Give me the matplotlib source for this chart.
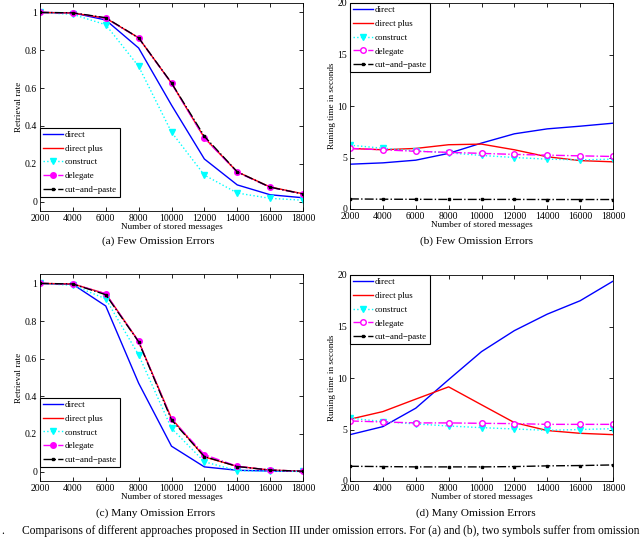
import matplotlib
matplotlib.use("Agg")
import matplotlib.pyplot as plt

plt.rcParams['font.family'] = ['Liberation Serif', 'DejaVu Serif']
plt.rcParams['mathtext.fontset'] = 'stix'

x = [2000, 4000, 6000, 8000, 10000, 12000, 14000, 16000, 18000]
xticks = [2000, 4000, 6000, 8000, 10000, 12000, 14000, 16000, 18000]
labels = ['direct', 'direct plus', 'construct', 'delegate', 'cut\u2212and\u2212paste']

# (a) Few omission errors - retrieval rate
a_direct = [1.0, 0.998, 0.96, 0.812, 0.51, 0.225, 0.088, 0.036, 0.02]
a_plus = [1.0, 0.997, 0.97, 0.866, 0.626, 0.337, 0.157, 0.077, 0.041]
a_construct = [1.0, 0.99, 0.935, 0.715, 0.367, 0.14, 0.045, 0.017, 0.007]
a_delegate = [1.0, 0.997, 0.97, 0.865, 0.625, 0.335, 0.155, 0.075, 0.04]
a_cut = [1.0, 0.998, 0.972, 0.866, 0.627, 0.345, 0.157, 0.076, 0.04]

# (b) Few omission errors - running time
b_direct = [4.35, 4.48, 4.74, 5.4, 6.4, 7.3, 7.78, 8.04, 8.33]
b_plus = [5.88, 5.75, 5.88, 6.24, 6.3, 5.75, 5.07, 4.7, 4.58]
b_construct = [6.2, 5.9, 5.65, 5.45, 5.2, 5.0, 4.84, 4.77, 4.84]
b_delegate = [5.88, 5.75, 5.6, 5.5, 5.4, 5.3, 5.23, 5.16, 5.1]
b_cut = [0.98, 0.95, 0.94, 0.93, 0.93, 0.93, 0.92, 0.92, 0.92]

# (c) Many omission errors - retrieval rate
c_direct = [1.0, 0.995, 0.88, 0.47, 0.135, 0.025, 0.007, 0.003, 0.001]
c_plus = [1.0, 0.997, 0.945, 0.692, 0.283, 0.078, 0.028, 0.008, 0.002]
c_construct = [1.0, 0.99, 0.918, 0.62, 0.23, 0.052, 0.005, 0.002, 0.001]
c_delegate = [1.0, 0.997, 0.945, 0.692, 0.28, 0.09, 0.028, 0.008, 0.002]
c_cut = [1.0, 0.997, 0.94, 0.69, 0.275, 0.08, 0.027, 0.008, 0.002]

# (d) Many omission errors - running time
d_direct = [4.5, 5.28, 7.07, 9.84, 12.56, 14.6, 16.2, 17.5, 19.4]
d_plus = [6.0, 6.74, 7.95, 9.14, 7.4, 5.67, 4.9, 4.63, 4.5]
d_construct = [6.1, 5.77, 5.54, 5.34, 5.18, 5.05, 4.92, 5.0, 5.08]
d_delegate = [5.83, 5.73, 5.64, 5.64, 5.6, 5.57, 5.5, 5.5, 5.5]
d_cut = [1.43, 1.4, 1.37, 1.37, 1.37, 1.4, 1.47, 1.5, 1.56]

captions = ['(a) Few Omission Errors', '(b) Few Omission Errors',
            '(c) Many Omission Errors', '(d) Many Omission Errors']
fig_caption = ('Comparisons of different approaches proposed in Section III under omission errors. '
               'For (a) and (b), two symbols suffer from omission errors')

W, H = 640, 539
fig = plt.figure(figsize=(W / 100, H / 100), dpi=100)


def rect(l, t, r, b):
    return [l / W, 1 - b / H, (r - l) / W, (b - t) / H]


def draw(ax, series, ylim, yticks, yticklabels, ylabel, legend_loc, hollow):
    d, p, c, g, k = series
    ax.plot(x, d, color='#0000ff', lw=1.0, label=labels[0])
    ax.plot(x, p, color='#ff0000', lw=1.0, label=labels[1])
    ax.plot(x, c, color='#00ffff', lw=1.0, ls=':', marker='v', ms=4,
            markerfacecolor='#00ffff', label=labels[2])
    ax.plot(x, g, color='#ff00ff', lw=1.0, ls='-.', marker='o', ms=4,
            markerfacecolor='white' if hollow else '#ff00ff', markeredgewidth=1.0,
            label=labels[3])
    ax.plot(x, k, color='black', lw=1.0, ls='-.', marker='s', ms=2,
            label=labels[4])
    ax.set_xlim(2000, 18000)
    ax.set_ylim(*ylim)
    ax.set_xticks(xticks)
    ax.set_xticklabels([str(v) for v in xticks])
    ax.set_yticks(yticks)
    ax.set_yticklabels(yticklabels)
    ax.tick_params(direction='in', top=True, right=True, length=3, width=0.6,
                   labelsize=7, pad=2)
    for s in ax.spines.values():
        s.set_linewidth(0.6)
    ax.set_xlabel('Number of stored messages', fontsize=6.6, labelpad=0)
    ax.set_ylabel(ylabel, fontsize=6.6, labelpad=1)
    kw = dict(borderaxespad=0, fontsize=6.4, fancybox=False, framealpha=1,
              edgecolor='black', handlelength=2.2, handletextpad=0.25,
              labelspacing=0.62, borderpad=0.35)
    if legend_loc == 'lower':
        leg = ax.legend(loc='lower left', bbox_to_anchor=(0, 0.067), **kw)
    else:
        leg = ax.legend(loc='upper left', bbox_to_anchor=(0, 1), **kw)
    leg.get_frame().set_linewidth(0.8)


rate_ticks = [0, 0.2, 0.4, 0.6, 0.8, 1.0]
rate_labels = ['0', '0.2', '0.4', '0.6', '0.8', '1']
time_ticks = [0, 5, 10, 15, 20]
time_labels = ['0', '5', '10', '15', '20']

axa = fig.add_axes(rect(40, 3, 303, 211))
draw(axa, (a_direct, a_plus, a_construct, a_delegate, a_cut), (-0.05, 1.05),
     rate_ticks, rate_labels, 'Retrieval rate', 'lower', False)
axb = fig.add_axes(rect(350, 3, 613, 209))
draw(axb, (b_direct, b_plus, b_construct, b_delegate, b_cut), (0, 20),
     time_ticks, time_labels, 'Runing time in seconds', 'upper', True)
axc = fig.add_axes(rect(40, 274, 303, 481))
draw(axc, (c_direct, c_plus, c_construct, c_delegate, c_cut), (-0.05, 1.05),
     rate_ticks, rate_labels, 'Retrieval rate', 'lower', False)
axd = fig.add_axes(rect(350, 275, 613, 481))
draw(axd, (d_direct, d_plus, d_construct, d_delegate, d_cut), (0, 20),
     time_ticks, time_labels, 'Runing time in seconds', 'upper', True)

cap_pos = [(158, 241), (476, 241), (156, 513), (476, 513)]
for (cx, cy), t in zip(cap_pos, captions):
    fig.text(cx / W, 1 - cy / H, t, ha='center', va='center', fontsize=8.1)

fig.text(1 / W, 1 - 531 / H, '.', ha='left', va='center', fontsize=8.3)
fig.text(22 / W, 1 - 531 / H, fig_caption, ha='left', va='center', fontsize=8.3)

fig.savefig('out.png', dpi=100)
